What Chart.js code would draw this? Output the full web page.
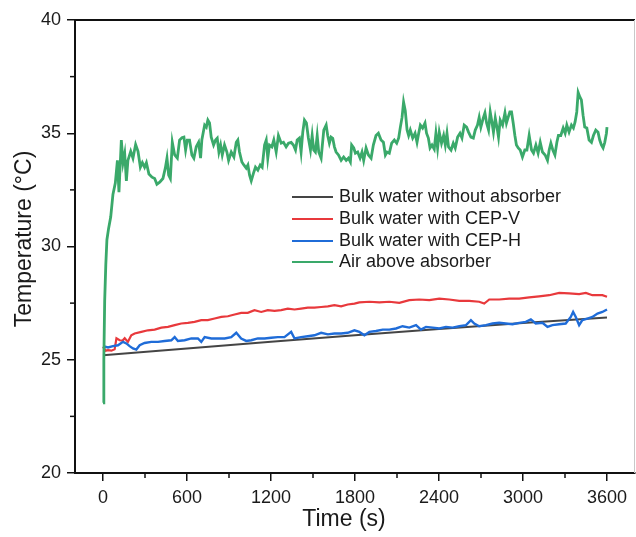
<!DOCTYPE html>
<html>
<head>
<meta charset="utf-8">
<script src="https://cdn.jsdelivr.net/npm/chart.js@4.4.1/dist/chart.umd.min.js"></script>
<style>
  html, body { margin: 0; padding: 0; background: #ffffff; }
  #wrap { width: 636px; height: 537px; position: relative; }
</style>
</head>
<body>
<div id="wrap"><canvas id="c" width="636" height="537"></canvas></div>
<script>
// ---------- DATA ----------
const seriesLabels = ["Bulk water without absorber", "Bulk water with CEP-V", "Bulk water with CEP-H", "Air above absorber"];
const xTitle = "Time (s)";
const yTitle = "Temperature (\u00B0C)";
const xTickValues = [0, 600, 1200, 1800, 2400, 3000, 3600];
const xMinorTicks = [300, 900, 1500, 2100, 2700, 3300];
const yTickValues = [20, 25, 30, 35, 40];
const yMinorTicks = [22.5, 27.5, 32.5, 37.5];

const blackTime = [0, 600, 1200, 1800, 2400, 3000, 3600];
const blackTemp = [25.2, 25.5, 25.8, 26.08, 26.36, 26.62, 26.87];

const redTime = [0,20,36,60,83,96,119,140,155,178,202,226,274,321,369,417,464,512,559,606,654,702,749,797,845,892,940,987,1034,1082,1130,1177,1225,1273,1320,1368,1415,1463,1510,1558,1606,1653,1701,1748,1796,1831,1903,1974,2045,2117,2188,2259,2331,2402,2473,2545,2616,2687,2723,2759,2830,2901,2973,3044,3115,3187,3258,3329,3401,3449,3496,3567,3600];
const redTemp = [25.57,25.4,25.42,25.4,25.46,25.95,25.86,25.85,25.95,25.79,26.08,26.16,26.23,26.3,26.33,26.42,26.45,26.53,26.6,26.63,26.67,26.75,26.75,26.82,26.89,26.92,27.0,27.07,27.07,27.19,27.11,27.19,27.16,27.19,27.26,27.22,27.26,27.3,27.3,27.33,27.36,27.41,27.36,27.44,27.48,27.53,27.56,27.53,27.56,27.51,27.63,27.66,27.63,27.7,27.66,27.6,27.6,27.56,27.48,27.66,27.66,27.7,27.7,27.75,27.8,27.85,27.95,27.93,27.9,27.95,27.85,27.85,27.78];

const blueTime = [0,36,71,107,143,167,190,214,238,262,297,345,393,440,488,512,535,583,631,678,702,726,774,821,869,916,952,987,1023,1059,1106,1154,1201,1249,1296,1344,1368,1415,1463,1510,1558,1606,1653,1701,1748,1796,1831,1867,1903,1950,1998,2045,2093,2140,2188,2236,2271,2307,2355,2402,2450,2497,2545,2593,2628,2652,2687,2735,2782,2830,2877,2925,2973,3020,3056,3091,3139,3175,3210,3258,3305,3341,3358,3377,3401,3424,3460,3496,3532,3567,3600];
const blueTemp = [25.6,25.54,25.6,25.64,25.79,25.72,25.6,25.5,25.45,25.64,25.74,25.79,25.79,25.83,25.86,26.0,25.83,25.86,25.94,25.94,25.79,26.0,25.94,25.94,25.94,26.0,26.19,25.94,25.83,25.86,25.94,25.94,25.97,26.0,26.0,26.23,25.94,26.0,26.04,26.08,26.19,26.12,26.16,26.16,26.19,26.3,26.23,26.08,26.23,26.27,26.33,26.33,26.38,26.48,26.42,26.53,26.33,26.45,26.42,26.38,26.45,26.42,26.48,26.53,26.75,26.6,26.48,26.53,26.6,26.63,26.6,26.57,26.63,26.67,26.78,26.6,26.63,26.45,26.53,26.57,26.6,26.89,27.11,26.89,26.53,26.75,26.82,26.89,27.04,27.11,27.22];

const greenTime = [0,6,12,20,28,40,55,71,88,103,114,131,143,155,167,178,198,214,233,250,267,281,297,310,328,350,369,385,405,428,445,457,469,481,495,512,531,547,564,578,590,602,618,635,649,666,683,697,706,726,738,749,761,773,790,804,816,828,840,852,868,885,897,916,935,952,963,975,992,1006,1023,1035,1047,1059,1075,1089,1106,1123,1137,1154,1166,1177,1189,1206,1220,1237,1253,1273,1289,1308,1325,1344,1360,1375,1387,1403,1415,1427,1439,1453,1467,1482,1494,1505,1517,1530,1541,1558,1577,1594,1605,1617,1629,1641,1653,1665,1682,1701,1719,1737,1753,1767,1776,1791,1803,1819,1836,1850,1862,1879,1896,1915,1931,1950,1967,1986,2003,2017,2029,2045,2062,2081,2098,2112,2124,2136,2147,2159,2172,2183,2195,2212,2229,2243,2255,2267,2283,2300,2311,2324,2336,2350,2366,2378,2390,2402,2418,2433,2445,2457,2468,2486,2502,2516,2533,2550,2564,2580,2597,2611,2628,2645,2659,2675,2687,2699,2716,2728,2740,2754,2766,2778,2789,2802,2814,2825,2837,2854,2871,2882,2894,2906,2918,2930,2942,2953,2966,2980,2996,3013,3028,3044,3061,3075,3092,3108,3123,3139,3158,3175,3187,3199,3213,3228,3242,3253,3270,3287,3301,3313,3329,3346,3360,3372,3384,3394,3406,3417,3429,3441,3456,3472,3489,3503,3520,3536,3548,3560,3572,3584,3596,3600];
const greenTemp = [23.1,25.0,27.6,29.2,30.3,30.8,31.3,32.3,32.8,33.8,32.4,34.7,33.7,34.1,32.9,33.8,34.2,33.9,34.5,34.2,33.5,33.7,33.5,33.7,33.2,33.06,33.0,32.75,32.84,33.0,33.46,33.9,33.15,33.0,34.6,34.04,33.9,34.7,34.8,34.83,34.26,34.7,34.7,34.04,33.9,34.4,34.6,33.9,34.7,35.36,35.27,35.58,35.45,34.83,34.48,34.7,34.78,34.17,34.48,34.04,34.48,34.17,33.8,34.17,33.95,34.6,34.7,34.17,33.73,33.6,33.46,33.6,33.15,32.9,33.24,33.5,33.37,33.6,33.5,34.48,34.7,33.9,34.48,34.4,34.7,34.17,34.9,34.56,34.6,34.4,34.56,34.6,34.48,34.26,34.7,34.79,34.17,35.05,35.58,35.45,34.79,34.26,34.9,34.26,34.17,34.9,34.17,33.9,35.14,35.36,34.9,34.56,34.83,34.78,34.4,34.17,34.04,33.8,33.95,33.8,33.9,33.73,34.48,34.35,34.12,34.17,33.9,34.17,33.8,34.35,34.04,33.9,34.48,34.9,35.0,34.7,34.6,34.04,34.17,34.12,34.56,34.7,34.56,34.79,35.27,35.7,36.38,36.0,35.14,34.9,35.14,34.79,35.0,34.6,35.0,35.36,35.23,35.45,35.0,34.79,34.35,34.48,34.3,35.0,34.35,35.05,34.56,34.9,34.48,35.0,34.4,34.26,34.56,34.35,34.83,35.0,34.79,35.36,35.27,35.05,34.83,34.79,35.14,35.36,35.7,35.27,35.67,35.9,35.45,35.14,35.94,35.5,35.05,35.67,35.27,34.83,35.58,35.36,35.9,35.45,35.7,35.94,35.94,35.45,34.9,34.48,34.35,34.26,33.95,34.26,34.26,34.9,34.26,34.12,34.48,34.12,34.6,34.17,34.04,33.8,34.26,34.56,34.26,34.04,34.6,34.9,34.9,35.23,35.0,35.36,35.05,35.36,35.23,35.5,35.94,36.8,36.6,36.47,35.8,35.27,35.23,34.7,34.6,34.9,35.14,35.05,34.7,34.48,34.35,34.6,35.0,35.27];

const seriesColors = ["#454545", "#e8393c", "#1f6cd8", "#3aa96a"];

// ---------- CHART ----------
const FONT = "Arial, 'Liberation Sans', sans-serif";
const toPoints = (xs, ys) => xs.map((x, i) => ({ x: x, y: ys[i] }));

const overlay = {
  id: 'overlay',
  afterDraw(chart) {
    const ctx = chart.ctx;
    const a = chart.chartArea;
    const xs = chart.scales.x, ys = chart.scales.y;
    ctx.save();
    // top frame and right frame
    ctx.strokeStyle = '#111';
    ctx.lineWidth = 2;
    ctx.beginPath(); ctx.moveTo(a.left, a.top); ctx.lineTo(a.right, a.top); ctx.stroke();
    ctx.strokeStyle = '#c8c8c8';
    ctx.lineWidth = 1;
    ctx.beginPath(); ctx.moveTo(a.right - 0.5, a.top); ctx.lineTo(a.right - 0.5, a.bottom); ctx.stroke();
    // minor ticks
    ctx.strokeStyle = '#111';
    ctx.lineWidth = 1.5;
    xMinorTicks.forEach(v => {
      const p = xs.getPixelForValue(v);
      ctx.beginPath(); ctx.moveTo(p, a.bottom); ctx.lineTo(p, a.bottom + 5); ctx.stroke();
    });
    yMinorTicks.forEach(v => {
      const p = ys.getPixelForValue(v);
      ctx.beginPath(); ctx.moveTo(a.left, p); ctx.lineTo(a.left - 5, p); ctx.stroke();
    });
    // legend
    ctx.font = '18px ' + FONT;
    ctx.textBaseline = 'middle';
    ctx.textAlign = 'left';
    const rowY = [197, 219, 241, 262];
    seriesLabels.forEach((lab, i) => {
      ctx.strokeStyle = seriesColors[i];
      ctx.lineWidth = 2;
      ctx.beginPath(); ctx.moveTo(292, rowY[i]); ctx.lineTo(333, rowY[i]); ctx.stroke();
      ctx.fillStyle = '#1a1a1a';
      ctx.fillText(lab, 339, rowY[i]);
    });
    // axis titles
    ctx.fillStyle = '#1a1a1a';
    ctx.font = '23px ' + FONT;
    ctx.textAlign = 'center';
    ctx.textBaseline = 'middle';
    ctx.fillText(xTitle, 344, 520);
    ctx.save();
    ctx.translate(25, 239);
    ctx.rotate(-Math.PI / 2);
    ctx.fillText(yTitle, 0, 0);
    ctx.restore();
    ctx.restore();
  }
};

new Chart(document.getElementById('c'), {
  type: 'scatter',
  data: {
    datasets: [
      { label: seriesLabels[0], data: toPoints(blackTime, blackTemp), borderColor: seriesColors[0], borderWidth: 2, order: 4 },
      { label: seriesLabels[1], data: toPoints(redTime, redTemp), borderColor: seriesColors[1], borderWidth: 2.2, order: 3 },
      { label: seriesLabels[2], data: toPoints(blueTime, blueTemp), borderColor: seriesColors[2], borderWidth: 2.4, order: 2 },
      { label: seriesLabels[3], data: toPoints(greenTime, greenTemp), borderColor: seriesColors[3], borderWidth: 2.8, order: 1 }
    ].map(d => Object.assign(d, { showLine: true, pointRadius: 0, pointHoverRadius: 0, fill: false, tension: 0, backgroundColor: d.borderColor }))
  },
  options: {
    responsive: false,
    animation: false,
    events: [],
    layout: { padding: { top: 20, right: 1, left: 0, bottom: 0 } },
    plugins: { legend: { display: false }, tooltip: { enabled: false }, title: { display: false } },
    scales: {
      x: {
        type: 'linear',
        min: -200, max: 3800,
        afterBuildTicks: s => { s.ticks = xTickValues.map(v => ({ value: v })); },
        afterFit: s => { s.height = 64; },
        grid: { drawOnChartArea: false, drawTicks: true, tickLength: 8, color: '#111', lineWidth: 1.5 },
        border: { display: true, color: '#111', width: 2 },
        ticks: { color: '#1a1a1a', font: { family: FONT, size: 18 }, padding: 6, maxRotation: 0, autoSkip: false, callback: v => String(v) }
      },
      y: {
        type: 'linear',
        min: 20, max: 40,
        afterBuildTicks: s => { s.ticks = yTickValues.map(v => ({ value: v })); },
        afterFit: s => { s.width = 75; },
        grid: { drawOnChartArea: false, drawTicks: true, tickLength: 8, color: '#111', lineWidth: 1.5 },
        border: { display: true, color: '#111', width: 2 },
        ticks: { color: '#1a1a1a', font: { family: FONT, size: 18 }, padding: 6, autoSkip: false, callback: v => String(v) }
      }
    }
  },
  plugins: [overlay]
});
</script>
</body>
</html>
